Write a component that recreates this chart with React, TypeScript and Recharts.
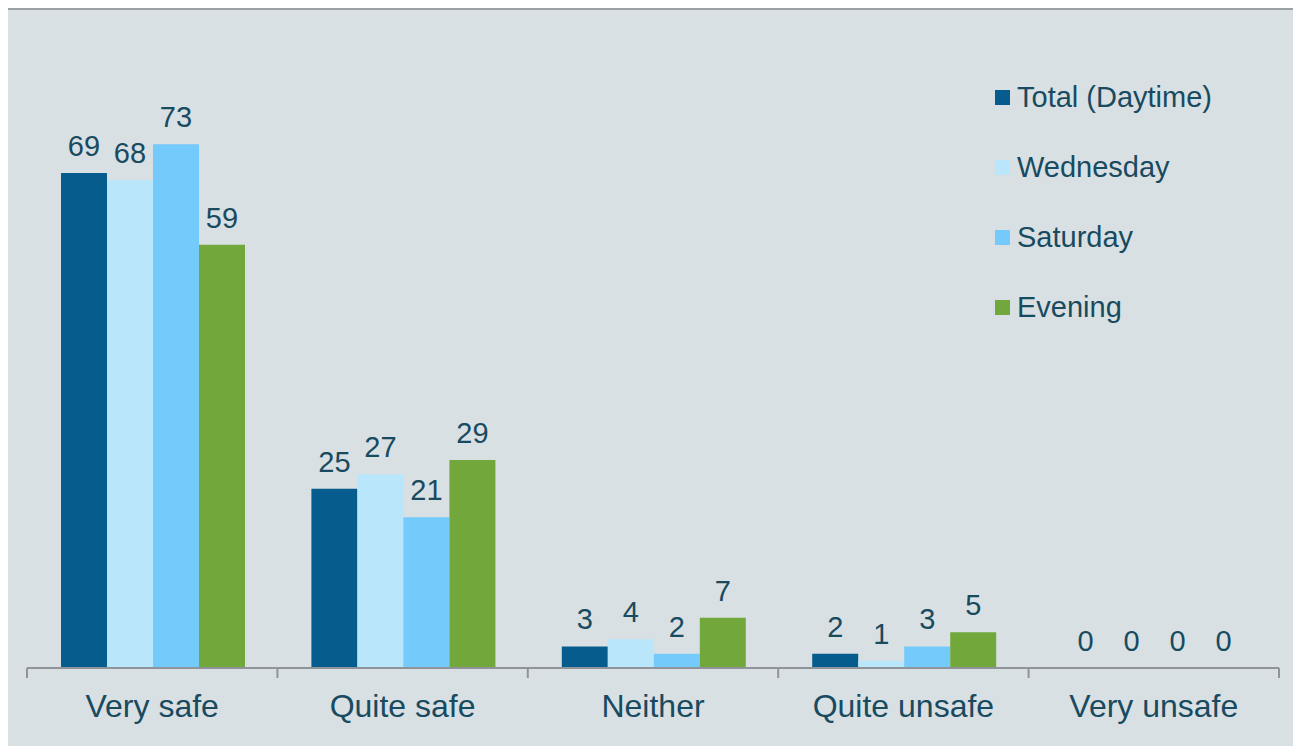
import React from "react";
import { BarChart, Bar, XAxis, YAxis, LabelList, Legend } from "recharts";

const categories = ["Very safe", "Quite safe", "Neither", "Quite unsafe", "Very unsafe"];
const totalDaytime = [69, 25, 3, 2, 0];
const wednesday = [68, 27, 4, 1, 0];
const saturday = [73, 21, 2, 3, 0];
const evening = [59, 29, 7, 5, 0];

const seriesNames = ["Total (Daytime)", "Wednesday", "Saturday", "Evening"];
const seriesKeys = ["total", "wed", "sat", "eve"];
const seriesColors = ["#065c8c", "#bae6fb", "#74cafa", "#72a83b"];

const data = categories.map((c, i) => ({
  name: c,
  total: totalDaytime[i],
  wed: wednesday[i],
  sat: saturday[i],
  eve: evening[i],
}));

const TEXT = "#184a60";
const FONT = "'Liberation Sans', Arial, sans-serif";
const AXIS = "#8e9499";
const TICK_SIZE = 10;
const TICK_MARGIN = 17;

const CategoryTick = (props: any) => {
  const { x, y, payload, index, width, visibleTicksCount } = props;
  const count = visibleTicksCount || categories.length;
  const bw = (width || 1252) / count;
  const axisY = y - TICK_SIZE - TICK_MARGIN;
  return (
    <g>
      <line x1={x - bw / 2} x2={x - bw / 2} y1={axisY} y2={axisY + TICK_SIZE} stroke={AXIS} strokeWidth={2} />
      {index === count - 1 && (
        <line x1={x + bw / 2} x2={x + bw / 2} y1={axisY} y2={axisY + TICK_SIZE} stroke={AXIS} strokeWidth={2} />
      )}
      <text x={x} y={y} dy={22} textAnchor="middle" fill={TEXT} fontSize={32} fontFamily={FONT}>
        {payload.value}
      </text>
    </g>
  );
};

const LegendContent = () => (
  <div style={{ fontFamily: FONT }}>
    {seriesNames.map((n, i) => (
      <div key={n} style={{ display: "flex", alignItems: "center", height: 70 }}>
        <div style={{ width: 15, height: 15, background: seriesColors[i], marginRight: 7 }} />
        <span style={{ fontSize: 29, color: TEXT, lineHeight: "30px" }}>{n}</span>
      </div>
    ))}
  </div>
);

export default function App() {
  return (
    <div style={{ position: "relative", width: 1301, height: 754, margin: -8, overflow: "hidden", background: "#ffffff" }}>
      <div
        style={{
          position: "absolute",
          left: 4,
          top: 8,
          width: 1296,
          height: 770,
          boxSizing: "border-box",
          border: "2px solid #9ba0a4",
          background: "#d8e0e3",
        }}
      />
      <div style={{ position: "absolute", left: 0, top: 0 }}>
        <BarChart
          width={1301}
          height={754}
          data={data}
          margin={{ top: 94, right: 22, left: 27, bottom: 26 }}
          barCategoryGap={34}
          barGap={0}
        >
          <XAxis
            dataKey="name"
            height={60}
            axisLine={{ stroke: AXIS, strokeWidth: 2 }}
            tickLine={false}
            tickSize={TICK_SIZE}
            tickMargin={TICK_MARGIN}
            tick={<CategoryTick />}
            interval={0}
          />
          <YAxis hide domain={[0, 80]} />
          <Legend
            layout="vertical"
            verticalAlign="middle"
            align="center"
            content={<LegendContent />}
            wrapperStyle={{ position: "absolute", left: 995, top: 62, width: 260 }}
          />
          {seriesKeys.map((k, i) => (
            <Bar
              key={k}
              dataKey={k}
              name={seriesNames[i]}
              fill={seriesColors[i]}
              minPointSize={0.01}
              isAnimationActive={false}
            >
              <LabelList dataKey={k} position="top" offset={17} fill={TEXT} fontSize={29} fontFamily={FONT} />
            </Bar>
          ))}
        </BarChart>
      </div>
    </div>
  );
}
